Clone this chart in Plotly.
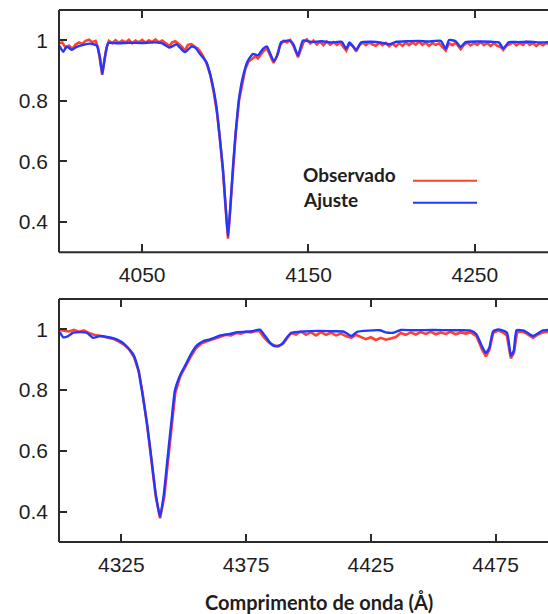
import plotly.graph_objects as go

# ---------------- data ----------------
# Top panel: fit (Ajuste)
top_fit_wl = [4000.0, 4000.6, 4002.6, 4004.6, 4007.6, 4010.6, 4014.6, 4018.6, 4022.6, 4024.6,
              4026.0, 4027.6, 4029.6, 4035, 4042, 4050, 4057, 4062, 4066.6, 4070.6,
              4075.6, 4079.6, 4082, 4084.6, 4088.6, 4091.6, 4094.6, 4096.6, 4098.6, 4100.2,
              4101.6, 4103.0, 4104.6, 4106.2, 4108.2, 4110.6, 4113.6, 4116.6, 4119.6, 4122.6,
              4125.0, 4126.6, 4129.2, 4131.6, 4133.6, 4138.6, 4140.7, 4143.7, 4146.7, 4152,
              4158, 4164, 4170, 4172.7, 4174.7, 4178.7, 4181.7, 4188, 4194, 4198.7,
              4203, 4210, 4216, 4222, 4229.5, 4232.5, 4234.5, 4238.5, 4241.5, 4244.5,
              4252, 4260, 4264.5, 4267.1, 4270.5, 4276, 4283, 4290, 4294]
top_fit_flux = [0.982, 0.978, 0.962, 0.980, 0.969, 0.978, 0.985, 0.989, 0.983, 0.944,
                0.889, 0.944, 0.991, 0.990, 0.992, 0.991, 0.993, 0.990, 0.976, 0.987,
                0.961, 0.979, 0.975, 0.956, 0.928, 0.872, 0.783, 0.683, 0.572, 0.450,
                0.352, 0.450, 0.583, 0.694, 0.806, 0.880, 0.933, 0.955, 0.950, 0.972,
                0.980, 0.961, 0.931, 0.956, 0.994, 0.999, 0.989, 0.950, 0.999, 0.994,
                0.997, 0.993, 0.995, 0.972, 0.993, 0.969, 0.993, 0.995, 0.992, 0.987,
                0.995, 0.997, 0.998, 0.996, 0.998, 0.972, 1.001, 0.997, 0.978, 0.994,
                0.996, 0.995, 0.993, 0.973, 0.994, 0.994, 0.995, 0.993, 0.994]

# Top panel: observed (Observado)
top_obs_wl = [4000, 4002, 4004, 4006, 4008, 4010, 4012, 4014, 4016, 4018,
              4020, 4022, 4023.5, 4024.8, 4026.0, 4027.3, 4028.6, 4030, 4032, 4034,
              4036, 4038, 4040, 4042, 4044, 4046, 4048, 4050, 4052, 4054,
              4056, 4058, 4060, 4062, 4064, 4066.5, 4068, 4070, 4072, 4074,
              4075.6, 4077.5, 4079.5, 4081.5, 4083.5, 4085, 4087, 4089, 4091, 4093,
              4095, 4096.6, 4098.6, 4100.2, 4101.6, 4103.0, 4104.6, 4106.2, 4108.2, 4110.6,
              4112, 4114, 4116, 4118, 4119.6, 4121, 4123, 4125, 4126.6, 4129,
              4131, 4133, 4135, 4137, 4139, 4141, 4143.7, 4145.5, 4147, 4149,
              4151, 4153, 4155, 4157, 4159, 4161, 4163, 4165, 4167, 4169,
              4171, 4172.7, 4174.5, 4176.5, 4178.7, 4180.5, 4182.5, 4184.5, 4186.5, 4188.5,
              4190.5, 4192.5, 4194.5, 4196.5, 4198.5, 4200.5, 4202.5, 4204.5, 4206.5, 4208.5,
              4210.5, 4212.5, 4214.5, 4216.5, 4218.5, 4220.5, 4222.5, 4224.5, 4226.5, 4228.5,
              4230.5, 4232.5, 4234.5, 4236.5, 4238.5, 4240, 4241.5, 4243.5, 4245.5, 4247.5,
              4249.5, 4251.5, 4253.5, 4255.5, 4257.5, 4259.5, 4261.5, 4263.5, 4265.5, 4267.1,
              4269, 4271, 4273, 4275, 4277, 4279, 4281, 4283, 4285, 4287,
              4289, 4291, 4293, 4294]
top_obs_flux = [0.990, 0.993, 0.975, 0.982, 0.972, 0.986, 0.993, 0.988, 0.998, 1.002,
                0.994, 0.998, 0.975, 0.935, 0.886, 0.935, 0.975, 0.998, 0.990, 1.000,
                0.992, 0.999, 0.993, 1.002, 0.990, 0.999, 0.993, 1.001, 0.992, 1.000,
                0.994, 1.003, 0.993, 0.999, 0.990, 0.981, 0.993, 0.997, 0.988, 0.978,
                0.966, 0.985, 0.987, 0.979, 0.972, 0.962, 0.944, 0.920, 0.884, 0.830,
                0.760, 0.680, 0.568, 0.445, 0.345, 0.445, 0.578, 0.690, 0.800, 0.872,
                0.905, 0.930, 0.940, 0.947, 0.940, 0.952, 0.965, 0.974, 0.955, 0.925,
                0.948, 0.985, 0.998, 0.993, 1.001, 0.982, 0.944, 0.975, 0.993, 1.003,
                0.990, 0.999, 0.986, 0.995, 0.984, 0.996, 0.986, 0.994, 0.985, 0.993,
                0.980, 0.966, 0.988, 0.982, 0.963, 0.983, 0.993, 0.984, 0.993, 0.986,
                0.982, 0.992, 0.984, 0.991, 0.980, 0.989, 0.980, 0.990, 0.982, 0.992,
                0.984, 0.993, 0.986, 0.995, 0.985, 0.992, 0.982, 0.991, 0.985, 0.990,
                0.978, 0.966, 0.990, 0.984, 0.992, 0.980, 0.971, 0.985, 0.992, 0.983,
                0.991, 0.985, 0.994, 0.984, 0.991, 0.981, 0.990, 0.982, 0.978, 0.968,
                0.982, 0.987, 0.993, 0.983, 0.991, 0.985, 0.995, 0.985, 0.991, 0.981,
                0.990, 0.984, 0.992, 0.987]

# Bottom panel: fit (Ajuste)
bot_fit_wl = [4300.0, 4300.4, 4301.7, 4303.7, 4305.7, 4308.5, 4311.1, 4313.7, 4316.4, 4319.8,
              4323.1, 4326.4, 4329.8, 4331.8, 4333.2, 4335.3, 4337.0, 4338.8, 4340.5, 4342.0,
              4343.4, 4345.1, 4346.5, 4348.6, 4350.7, 4352.8, 4354.9, 4357.7, 4360.5, 4364.7,
              4368.5, 4371.7, 4377.3, 4380.5, 4382.9, 4385.0, 4387.0, 4389.2, 4391.5, 4393.2,
              4398, 4404, 4410, 4414, 4417.2, 4419.5, 4424, 4428.6, 4431, 4434,
              4437, 4442, 4450, 4458, 4465, 4467.3, 4469.5, 4471.1, 4472.5, 4474.0,
              4476, 4479.5, 4481.1, 4482.3, 4483.4, 4486.5, 4490.0, 4494.0, 4496]
bot_fit_flux = [0.990, 0.989, 0.974, 0.978, 0.989, 0.991, 0.989, 0.972, 0.978, 0.974,
                0.967, 0.950, 0.917, 0.867, 0.800, 0.689, 0.578, 0.456, 0.383, 0.456,
                0.567, 0.700, 0.800, 0.850, 0.883, 0.917, 0.944, 0.961, 0.967, 0.980,
                0.985, 0.991, 0.994, 0.999, 0.975, 0.952, 0.944, 0.950, 0.975, 0.989,
                0.993, 0.995, 0.994, 0.993, 0.978, 0.992, 0.996, 0.997, 0.990, 0.989,
                0.998, 0.997, 0.998, 0.997, 0.996, 0.984, 0.945, 0.922, 0.940, 0.993,
                1.000, 0.990, 0.914, 0.930, 0.997, 0.995, 0.978, 0.997, 0.998]

# Bottom panel: observed (Observado)
bot_obs_wl = [4300, 4302, 4304, 4306, 4308, 4310, 4312, 4314, 4316, 4318,
              4320, 4322, 4324, 4326, 4328, 4330, 4332, 4333.5, 4335.3, 4337,
              4338.8, 4340.5, 4342.2, 4343.6, 4345.2, 4346.6, 4348.6, 4350.7, 4352.8, 4354.9,
              4357, 4359, 4361, 4363, 4365, 4367, 4369, 4371, 4373, 4375,
              4377, 4379, 4380.5, 4382, 4384, 4386, 4388, 4390, 4391.5, 4393,
              4395, 4397, 4399, 4401, 4403, 4405, 4407, 4409, 4411, 4413,
              4415, 4417.2, 4419, 4421, 4423, 4425, 4427, 4429, 4431, 4433,
              4435, 4437, 4439, 4441, 4443, 4445, 4447, 4449, 4451, 4453,
              4455, 4457, 4459, 4461, 4463, 4465, 4467.3, 4469.5, 4471.1, 4472.5,
              4474, 4476, 4478, 4479.5, 4481.1, 4482.3, 4483.6, 4485.5, 4487.5, 4490,
              4492, 4494, 4496]
bot_obs_flux = [0.998, 0.995, 0.993, 0.998, 0.992, 0.997, 0.988, 0.982, 0.980, 0.976,
                0.972, 0.968, 0.960, 0.950, 0.935, 0.910, 0.860, 0.790, 0.685, 0.572,
                0.450, 0.378, 0.450, 0.560, 0.690, 0.790, 0.845, 0.878, 0.910, 0.938,
                0.953, 0.960, 0.965, 0.972, 0.975, 0.982, 0.980, 0.988, 0.986, 0.992,
                0.990, 0.995, 0.993, 0.975, 0.958, 0.948, 0.944, 0.955, 0.972, 0.988,
                0.983, 0.993, 0.982, 0.990, 0.980, 0.991, 0.982, 0.989, 0.980, 0.986,
                0.978, 0.972, 0.982, 0.975, 0.968, 0.974, 0.965, 0.972, 0.966, 0.970,
                0.975, 0.988, 0.982, 0.990, 0.983, 0.991, 0.985, 0.992, 0.984, 0.990,
                0.985, 0.992, 0.984, 0.990, 0.986, 0.990, 0.978, 0.935, 0.911, 0.932,
                0.988, 0.996, 0.990, 0.980, 0.905, 0.922, 0.990, 0.993, 0.986, 0.972,
                0.983, 0.990, 0.992]

top_xticks = [4050, 4150, 4250]
bot_xticks = [4325, 4375, 4425, 4475]
y_ticks = [0.4, 0.6, 0.8, 1.0]
y_ticktext = ["0.4", "0.6", "0.8", "1"]
legend_labels = ["Observado", "Ajuste"]
x_title = "Comprimento de onda (Å)"

# ---------------- styling / geometry ----------------
W, H = 548, 614
RED = "rgba(255,45,25,0.9)"
BLUE = "rgb(35,55,255)"
FRAME = "#2b2b2b"
TXT = "#1e1e1e"

def px(x):
    return x / W

def py(y):
    return 1 - y / H

x_dom = [px(59), 1.0]
top_dom = [py(252.3), py(10)]
bot_dom = [py(542), py(299)]

fig = go.Figure()

# observed (red) then fit (blue) on top
fig.add_trace(go.Scatter(x=top_obs_wl, y=top_obs_flux, mode="lines",
                         line=dict(color=RED, width=2.6), xaxis="x", yaxis="y",
                         showlegend=False, hoverinfo="skip"))
fig.add_trace(go.Scatter(x=top_fit_wl, y=top_fit_flux, mode="lines",
                         line=dict(color=BLUE, width=2.4, shape="spline", smoothing=0.5),
                         xaxis="x", yaxis="y", showlegend=False, hoverinfo="skip"))
fig.add_trace(go.Scatter(x=bot_obs_wl, y=bot_obs_flux, mode="lines",
                         line=dict(color=RED, width=2.6), xaxis="x2", yaxis="y2",
                         showlegend=False, hoverinfo="skip"))
fig.add_trace(go.Scatter(x=bot_fit_wl, y=bot_fit_flux, mode="lines",
                         line=dict(color=BLUE, width=2.4, shape="spline", smoothing=0.5),
                         xaxis="x2", yaxis="y2", showlegend=False, hoverinfo="skip"))
# empty traces to register mirrored top-tick axes
fig.add_trace(go.Scatter(x=[], y=[], xaxis="x3", yaxis="y", showlegend=False))
fig.add_trace(go.Scatter(x=[], y=[], xaxis="x4", yaxis="y2", showlegend=False))

tickfont = dict(family="Liberation Sans, Arial, sans-serif", size=21, color=TXT)
common_x = dict(showgrid=False, zeroline=False, showline=False, ticks="inside",
                ticklen=8, tickwidth=1.6, tickcolor=FRAME, tickfont=tickfont,
                automargin=False, ticklabelstandoff=8)
common_y = dict(showgrid=False, zeroline=False, showline=False, ticks="inside",
                ticklen=8, tickwidth=1.6, tickcolor=FRAME, tickfont=tickfont,
                automargin=False, range=[0.3, 1.1], tickvals=y_ticks,
                ticktext=y_ticktext, ticklabelstandoff=10)

fig.update_layout(
    width=W, height=H,
    margin=dict(l=0, r=0, t=0, b=0),
    paper_bgcolor="white", plot_bgcolor="rgba(0,0,0,0)",
    showlegend=False,
    xaxis=dict(domain=x_dom, range=[4000, 4294], tickvals=top_xticks,
               anchor="y", **common_x),
    yaxis=dict(domain=top_dom, anchor="x", **common_y),
    xaxis2=dict(domain=x_dom, range=[4300, 4496], tickvals=bot_xticks,
                anchor="y2", **common_x),
    yaxis2=dict(domain=bot_dom, anchor="x2", **common_y),
    xaxis3=dict(domain=x_dom, range=[4000, 4294], tickvals=top_xticks,
                anchor="y", overlaying="x", side="top", showticklabels=False,
                showgrid=False, zeroline=False, showline=False, ticks="inside",
                ticklen=8, tickwidth=1.6, tickcolor=FRAME),
    xaxis4=dict(domain=x_dom, range=[4300, 4496], tickvals=bot_xticks,
                anchor="y2", overlaying="x2", side="top", showticklabels=False,
                showgrid=False, zeroline=False, showline=False, ticks="inside",
                ticklen=8, tickwidth=1.6, tickcolor=FRAME),
)

# frame lines (left, top, bottom) for each panel
shapes = []
for dom in (top_dom, bot_dom):
    shapes.append(dict(type="line", xref="paper", yref="paper", x0=x_dom[0], x1=x_dom[0],
                       y0=dom[0], y1=dom[1], line=dict(color=FRAME, width=2)))
    shapes.append(dict(type="line", xref="paper", yref="paper", x0=x_dom[0], x1=1.01,
                       y0=dom[1], y1=dom[1], line=dict(color=FRAME, width=2)))
    shapes.append(dict(type="line", xref="paper", yref="paper", x0=x_dom[0], x1=1.01,
                       y0=dom[0], y1=dom[0], line=dict(color=FRAME, width=2)))
# legend sample lines
shapes.append(dict(type="line", xref="paper", yref="paper", x0=px(413), x1=px(477),
                   y0=py(180.7), y1=py(180.7), line=dict(color=RED, width=2)))
shapes.append(dict(type="line", xref="paper", yref="paper", x0=px(413), x1=px(477),
                   y0=py(202.7), y1=py(202.7), line=dict(color=BLUE, width=2)))
fig.update_layout(shapes=shapes)

legfont = dict(family="Lato, Open Sans, sans-serif", size=19, color=TXT, weight="bold")
annotations = [
    dict(text=legend_labels[0], xref="paper", yref="paper", x=px(301), y=py(174),
         xanchor="left", yanchor="middle", showarrow=False, font=legfont),
    dict(text=legend_labels[1], xref="paper", yref="paper", x=px(301), y=py(199.5),
         xanchor="left", yanchor="middle", showarrow=False, font=legfont),
    dict(text=x_title, xref="paper", yref="paper", x=px(319), y=py(602),
         xanchor="center", yanchor="middle", showarrow=False,
         font=dict(family="Lato, Open Sans, sans-serif", size=20, color=TXT, weight="bold")),
]
fig.update_layout(annotations=annotations)

fig.write_html("out.html")
